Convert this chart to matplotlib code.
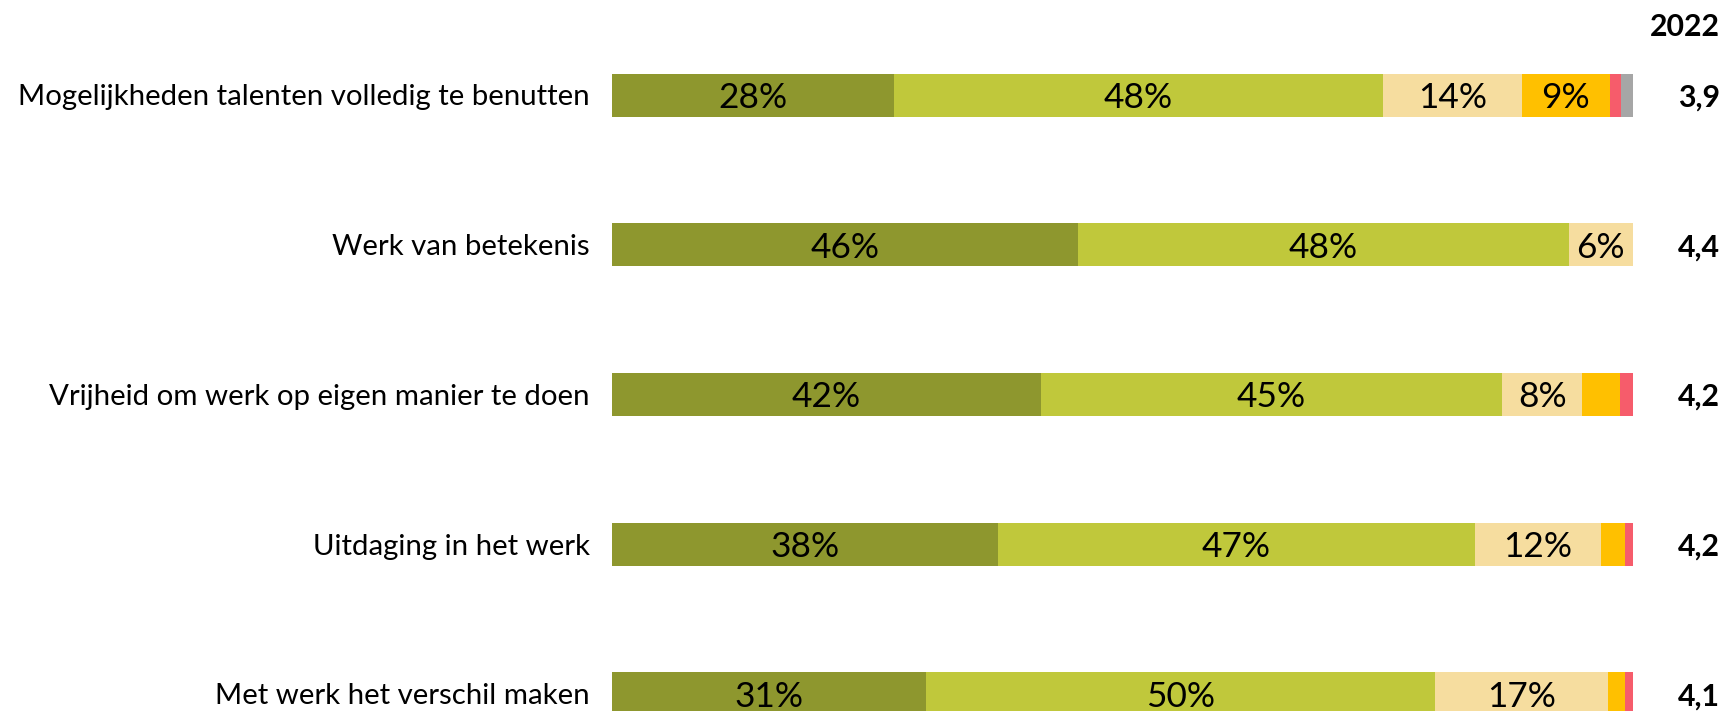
import matplotlib
matplotlib.use("Agg")
import matplotlib.pyplot as plt

categories = [
    "Mogelijkheden talenten volledig te benutten",
    "Werk van betekenis",
    "Vrijheid om werk op eigen manier te doen",
    "Uitdaging in het werk",
    "Met werk het verschil maken",
]
# shares per answer category (%)
zeer_eens = [27.6, 45.6, 42.0, 37.8, 30.8]
eens = [47.9, 48.1, 45.2, 46.7, 49.8]
neutraal = [13.6, 6.3, 7.8, 12.4, 17.0]
oneens = [8.6, 0.0, 3.7, 2.3, 1.6]
zeer_oneens = [1.1, 0.0, 1.3, 0.8, 0.8]
weet_niet = [1.2, 0.0, 0.0, 0.0, 0.0]
gemiddelde = ["3,9", "4,4", "4,2", "4,2", "4,1"]
jaar = "2022"

series = [zeer_eens, eens, neutraal, oneens, zeer_oneens, weet_niet]
colors = ["#8E972E", "#C0C83B", "#F6DD9F", "#FFC000", "#F65C6B", "#A6A6A6"]

FONT = "Lato"
W, H = 1729, 711
fig = plt.figure(figsize=(W / 100, H / 100), dpi=100)
left_px, right_px = 612, 1633
ax = fig.add_axes([left_px / W, 0, (right_px - left_px) / W, 1])
ax.set_xlim(0, 100)
y0_px, dy_px = 95, 149.75
ax.set_ylim((H - y0_px) / dy_px, -y0_px / dy_px)
ax.axis("off")

renderer = fig.canvas.get_renderer()


def fit_size(text, target_px, weight="normal", base=20):
    t = fig.text(0, 0, text, fontsize=base, family=FONT, weight=weight)
    w = t.get_window_extent(renderer=renderer).width
    t.remove()
    return base * target_px / w


label_fs = fit_size(categories[0], 575)
pct_fs = fit_size("28%", 69)
bold_fs = fit_size("2022", 70, weight="bold")

bar_h = 43 / dy_px
ypos = list(range(len(categories)))
for i in ypos:
    start = 0.0
    for s, c in zip(series, colors):
        v = s[i]
        if v > 0:
            ax.barh(i, v, left=start, height=bar_h, color=c, linewidth=0)
            if v >= 5:
                ax.text(start + v / 2, i, f"{round(v)}%", ha="center",
                        va="center_baseline", fontsize=pct_fs, family=FONT,
                        color="black")
        start += v
    ax.text(-2.2, i, categories[i], ha="right", va="center_baseline",
            fontsize=label_fs, family=FONT, color="black", clip_on=False)
    ax.text(1720 / W, 1 - (y0_px + dy_px * i) / H, gemiddelde[i],
            transform=fig.transFigure, ha="right", va="center_baseline",
            fontsize=bold_fs, family=FONT, weight="bold", color="black")

fig.text(1720 / W, 1 - 25 / H, jaar, ha="right", va="center_baseline",
         fontsize=bold_fs, family=FONT, weight="bold", color="black")

fig.savefig("out.png", dpi=100, facecolor="white")
